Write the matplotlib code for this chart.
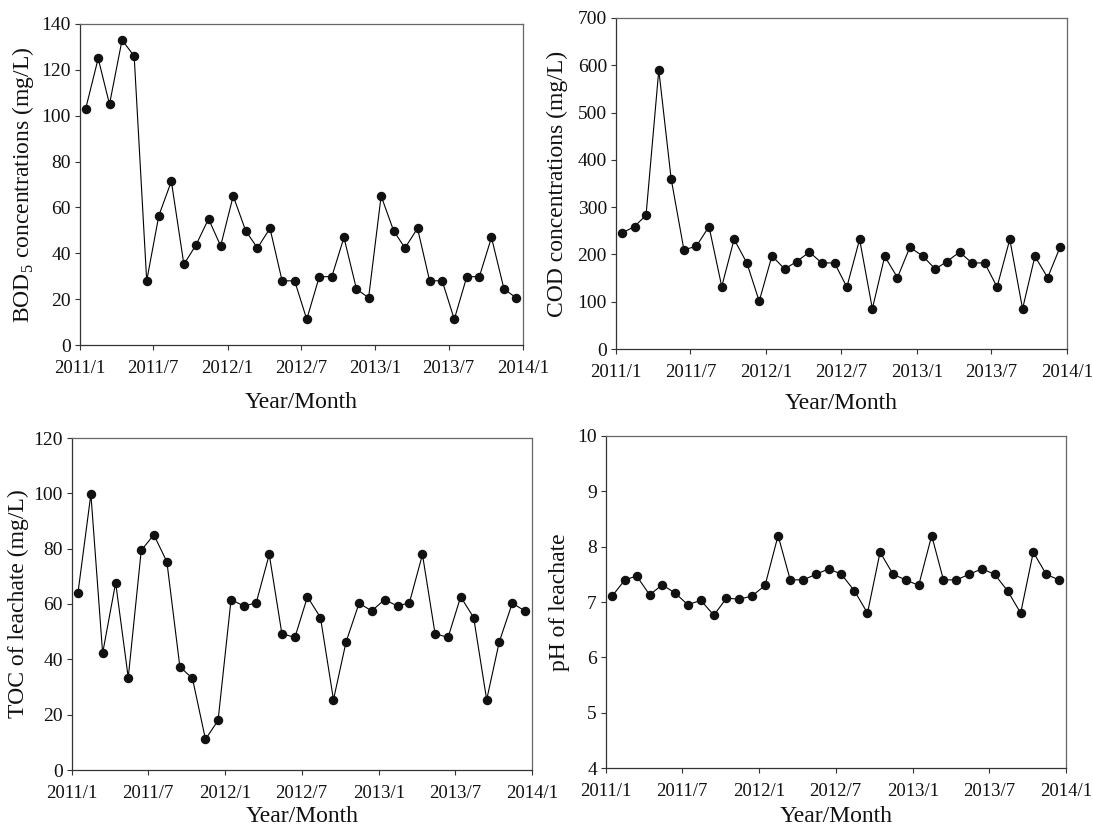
import datetime as dt
import matplotlib
matplotlib.use("Agg")
import matplotlib.pyplot as plt
import pandas as pd

plt.rcParams["font.family"] = ["Liberation Serif", "DejaVu Serif"]
plt.rcParams["mathtext.fontset"] = "custom"
plt.rcParams["mathtext.rm"] = "Liberation Serif"

# ── data (monthly samples, Jan 2011 – Dec 2013) ───────────────────────────────
months = pd.date_range("2011-01-01", periods=36, freq="MS") + pd.Timedelta(days=14)

bod5 = [103, 125, 105, 133, 126, 28, 56.4, 71.4, 35.2, 43.6, 55, 43.2,
        65, 49.8, 42.3, 50.9, 28, 28, 11.2, 29.8, 29.8, 46.9, 24.4, 20.6,
        65, 49.8, 42.3, 50.9, 28, 28, 11.2, 29.8, 29.8, 46.9, 24.4, 20.6]

cod = [245, 259, 283, 590, 360, 210, 217, 259, 132, 232, 182, 101,
       197, 169, 185, 205, 182, 182, 131, 232, 85, 196, 151, 215,
       197, 169, 185, 205, 182, 182, 131, 232, 85, 196, 151, 215]

toc = [63.8, 99.7, 42.2, 67.7, 33.4, 79.4, 85, 75.3, 37.3, 33.1, 11.1, 17.9,
       61.6, 59.2, 60.5, 77.9, 49.3, 47.9, 62.6, 55.1, 25.4, 46.3, 60.3, 57.5,
       61.6, 59.2, 60.5, 77.9, 49.3, 47.9, 62.6, 55.1, 25.4, 46.3, 60.3, 57.5]

ph = [7.10, 7.40, 7.47, 7.13, 7.31, 7.16, 6.95, 7.03, 6.76, 7.07, 7.05, 7.11,
      7.30, 8.20, 7.40, 7.40, 7.50, 7.60, 7.50, 7.20, 6.80, 7.90, 7.50, 7.40,
      7.30, 8.20, 7.40, 7.40, 7.50, 7.60, 7.50, 7.20, 6.80, 7.90, 7.50, 7.40]

ylabels = [r"BOD$_5$ concentrations (mg/L)", "COD concentrations (mg/L)",
           "TOC of leachate (mg/L)", "pH of leachate"]
ylims = [(0, 140), (0, 700), (0, 120), (4, 10)]
ysteps = [20, 100, 20, 1]
series = [bod5, cod, toc, ph]

# ── layout (pixels in a 1093x830 figure) ──────────────────────────────────────
W, H = 1093, 830
boxes = [(80, 523, 24, 345), (616, 1067, 18, 349),
         (72, 532, 438, 770), (606, 1066, 436, 768)]
ylab_x = [23, 557, 18, 559]      # centre of y label
xlab_y = [402, 403, 816, 816]    # centre of x label

fig = plt.figure(figsize=(W / 100, H / 100), dpi=100, facecolor="white")

xt = pd.date_range("2011-01-01", "2014-01-01", freq="6MS")

for i, (vals, ylab, lim, step) in enumerate(zip(series, ylabels, ylims, ysteps)):
    l, r, t, b = boxes[i]
    ax = fig.add_axes([l / W, 1 - b / H, (r - l) / W, (b - t) / H])
    ax.plot(months, vals, color="black", lw=0.8, marker="o", ms=5.8,
            mfc="#111111", mec="#111111")
    ax.set_xlim(dt.datetime(2011, 1, 1), dt.datetime(2014, 1, 1))
    ax.set_ylim(*lim)
    ax.set_xticks(xt)
    ax.set_xticklabels([f"{d.year}/{d.month}" for d in xt])
    ax.set_yticks(list(range(lim[0], lim[1] + 1, step)))
    ax.tick_params(direction="out", length=3.5, width=0.8, colors="#333333",
                   labelsize=13.5, labelcolor="#111111")
    ax.tick_params(axis="x", pad=7)
    ax.tick_params(axis="y", pad=3, labelsize=14)
    for side, sp in ax.spines.items():
        sp.set_linewidth(0.9)
        sp.set_color("#333333" if side in ("left", "bottom") else "#666666")

    ax.set_ylabel(ylab, fontsize=17, color="#111111")
    ax.yaxis.label.set_va("center")
    ax.yaxis.set_label_coords((ylab_x[i] - l) / (r - l), 0.5)
    ax.set_xlabel("Year/Month", fontsize=17, color="#111111")
    ax.xaxis.label.set_va("center")
    ax.xaxis.set_label_coords(0.5, -(xlab_y[i] - b) / (b - t))

fig.savefig("out.png", dpi=100, facecolor="white")
